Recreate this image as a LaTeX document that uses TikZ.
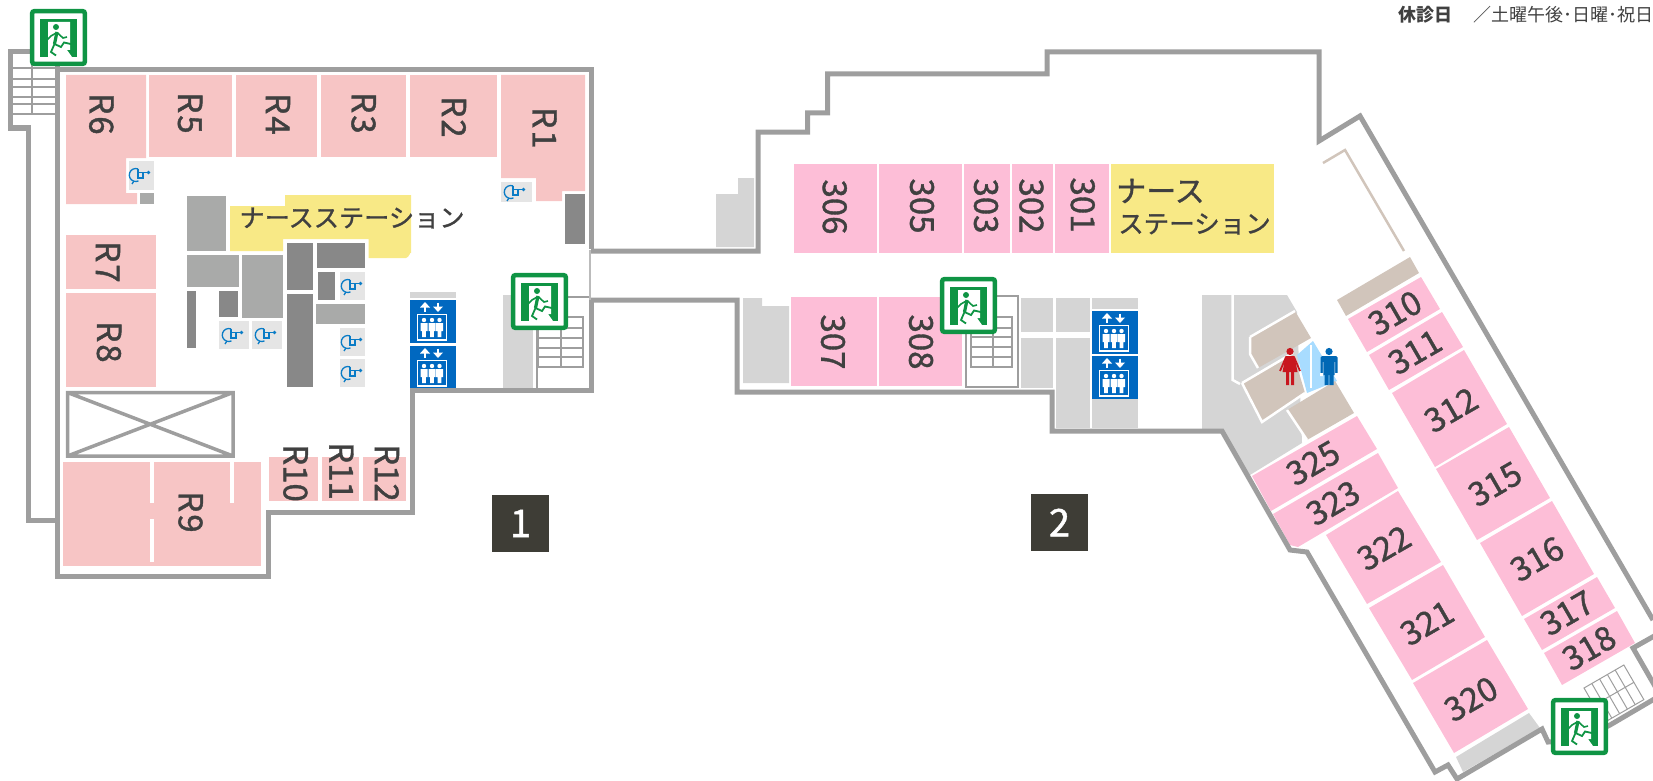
\documentclass[tikz,border=0pt]{standalone}
\usepackage{fontspec}
\setmainfont{Noto Sans CJK JP}
\newfontfamily\labelfont[FakeBold=1.2]{Noto Sans CJK JP}
\definecolor{wallgrey}{HTML}{9E9E9E}
\definecolor{roompale}{HTML}{F7C5C5}
\definecolor{roompink}{HTML}{FDBED7}
\definecolor{stationyellow}{HTML}{F8E986}
\definecolor{blockmid}{HTML}{A9AAA9}
\definecolor{blockdark}{HTML}{888888}
\definecolor{blocklight}{HTML}{D5D5D5}
\definecolor{tilegrey}{HTML}{E5E5E5}
\definecolor{beige}{HTML}{D1C5BB}
\definecolor{iconblue}{HTML}{0A7CC6}
\definecolor{liftblue}{HTML}{0068C0}
\definecolor{manblue}{HTML}{0068B5}
\definecolor{womanred}{HTML}{C8161E}
\definecolor{exitgreen}{HTML}{0F9444}
\definecolor{glassblue}{HTML}{A8DCFF}
\definecolor{tagdark}{HTML}{3E3D36}
\definecolor{labeltext}{HTML}{404040}
\tikzset{
  wall/.style={draw=wallgrey,line width=5pt,miter limit=10},
  thinwall/.style={draw=wallgrey,line width=2.5pt},
  roomlabel/.style={inner sep=0pt,text=labeltext,font=\labelfont\fontsize{33}{33}\selectfont},
  stationlabel/.style={inner sep=0pt,text=labeltext,font=\labelfont\fontsize{25.2}{26}\selectfont},
  numbertag/.style={inner sep=0pt,fill=tagdark,text=white,minimum width=57pt,minimum height=57pt,font=\labelfont\fontsize{38}{38}\selectfont},
  headerlabel/.style={inner sep=0pt,anchor=west,text=labeltext,font=\fontsize{18}{18}\selectfont},
}
\newcommand{\exitsign}[2]{%
  \begin{scope}[shift={(#1,#2)}]
  \draw[exitgreen,line width=4.5pt,fill=white,rounded corners=2pt](2.2,2.2)rectangle(54.8,54.8);
  \fill[exitgreen](10,10)rectangle(47,48);
  \fill[white](18,13)--(40,13)--(40,41)--(37,41)--(42,48)--(18,48)--cycle;
  \fill[exitgreen](26,18)circle(3);
  \draw[exitgreen,line width=3.2pt](27,23)--(24.5,35);
  \draw[exitgreen,line width=1.6pt](27,23.5)--(21,27)--(17,31);
  \draw[exitgreen,line width=1.6pt](27,23.5)--(33,29)--(37,28);
  \draw[exitgreen,line width=1.8pt](24.5,35)--(31,38)--(34,33.5)--(43,35.5);
  \draw[exitgreen,line width=1.8pt](24.5,35)--(21,43)--(26,46.5);
  \end{scope}}
\newcommand{\wheelchair}[2]{%
  \begin{scope}[shift={(#1,#2)},iconblue,line width=1.3pt]
  \draw(-2,-6.1)arc[start angle=-70,end angle=-295,radius=6.5];
  \draw(-2,-6)--(-2,3)--(3,3)--(3,-2.5);
  \draw(-2,-2.5)--(8,-2.5);
  \fill(8.5,-2.5)circle(1.8);
  \draw(-6,6)--(-8,9);
  \end{scope}}
\newcommand{\lifttile}[2]{%
  \begin{scope}[shift={(#1,#2)}]
  \fill[liftblue](0,0)rectangle(46,43);
  \draw[white,line width=2pt](15,12)--(15,6);
  \fill[white](10,7.5)--(15,2)--(20,7.5)--cycle;
  \draw[white,line width=2pt](28,2.5)--(28,8);
  \fill[white](23,6.5)--(28,12)--(33,6.5)--cycle;
  \draw[white,line width=1.5pt](7.5,14.5)rectangle(36.5,40);
  \fill[white](14,20)circle(2.2)(22,20)circle(2.2)(29.5,20)circle(2.2);
  \fill[white](10.5,23)rectangle(17.5,31)(12.2,31)rectangle(15.8,37);
  \fill[white](18.5,23)rectangle(25.5,31)(20.2,31)rectangle(23.8,37);
  \fill[white](26,23)rectangle(33,31)(27.7,31)rectangle(31.3,37);
  \end{scope}}
\begin{document}
\begin{tikzpicture}[x=1pt,y=-1pt]
\useasboundingbox(0,0)rectangle(1653,781);
\clip(0,0)rectangle(1653,781);
% left wing rooms
\fill[roompale](66,75)--(146,75)--(146,158)--(126,158)--(126,193)--(137,193)--(137,204)--(66,204)--cycle; %R6
\fill[roompale](149,75)rectangle(232,157); %R5
\fill[roompale](236,75)rectangle(317,157); %R4
\fill[roompale](321,75)rectangle(406,157); %R3
\fill[roompale](410,75)rectangle(497,157); %R2
\fill[roompale](501,75)--(585,75)--(585,191)--(562,191)--(562,201)--(536,201)--(536,178)--(501,178)--cycle; %R1
\fill[roompale](66,235)rectangle(156,289); %R7
\fill[roompale](66,293)rectangle(156,387); %R8
\fill[roompale](63,462)rectangle(261,566); %R9
\draw[white,line width=3.5pt](152,462)--(152,503)(152,519)--(152,562)(232,462)--(232,503);
\fill[roompale](269,457)rectangle(318,501); %R10
\fill[roompale](322,457)rectangle(359,501); %R11
\fill[roompale](363,457)rectangle(406,501); %R12
% void
\draw[wallgrey,line width=3.5pt](67.5,392.5)rectangle(233,456)(67.5,392.5)--(233,456)(233,392.5)--(67.5,456);
% left wing station
\fill[stationyellow](230,206)--(285,206)--(285,195)--(411,195)--(411,253)to[out=90,in=0](406,258)--(368.5,258)--(368.5,239)--(283,239)--(283,251)--(230,251)--cycle;
% blocks around station
\fill[blockmid](187,196)rectangle(226,251);
\fill[blockmid](187,255)rectangle(239,287);
\fill[blockmid](242,255)rectangle(283,318);
\fill[blockmid](316,304)rectangle(365,324);
\fill[blockdark](187,291)rectangle(196,348);
\fill[blockdark](219,291)rectangle(238,317);
\fill[blockdark](287,243)rectangle(313,290);
\fill[blockdark](287,294)rectangle(313,387);
\fill[blockdark](317,243)rectangle(365,268);
\fill[blockdark](318,272)rectangle(335,300);
\fill[blockdark](565,194)rectangle(585,244);
\fill[blockmid](140,193)rectangle(154,204);
% wheelchair tiles
\fill[tilegrey](340,272)rectangle(365,300);
\fill[tilegrey](340,328)rectangle(365,356);
\fill[tilegrey](340,359)rectangle(365,387);
\fill[tilegrey](219,321)rectangle(249,349);
\fill[tilegrey](252,321)rectangle(282,349);
\fill[tilegrey](129,161)rectangle(154,190);
\fill[tilegrey](501,182)rectangle(532,202);
\wheelchair{352}{286}
\wheelchair{352}{342}
\wheelchair{352}{373}
\wheelchair{233}{335}
\wheelchair{266}{335}
\wheelchair{140}{175}
\wheelchair{515}{192}
% left wing core
\fill[blocklight](410,292)rectangle(456,298);
\lifttile{410}{300}
\lifttile{410}{346}
\fill[blocklight](503,295)rectangle(533,388);
\draw[thinwall](537,388)--(537,297)--(590,297);
\draw[thinwall](538,317)rectangle(583,367);
\draw[thinwall](538,328)--(583,328)(538,338)--(583,338)(538,348)--(583,348)(538,357)--(583,357)(561,317)--(561,367);
% outer wall of left wing
\draw[wall](591,249)--(591,70)--(57,70)--(57,576)--(268,576)--(268,512)--(412,512)--(412,390)--(591,390)--(591,298);
\draw[draw=wallgrey!70,line width=2pt](590,250)--(590,300);
\draw[wall](57,68)--(57,52)--(10,52)--(10,128)--(28,128)--(28,520)--(57,520); %west stair
\draw[wallgrey,line width=2.5pt](12,68)--(55,68)(12,79)--(55,79)(12,87)--(55,87)(12,97)--(55,97)(12,104)--(55,104)(12,114)--(55,114)(32,60)--(32,114);
% right wing rooms
\fill[roompink](794,164)rectangle(877,253); %306
\fill[roompink](879,164)rectangle(962,253); %305
\fill[roompink](964,164)rectangle(1010,253); %303
\fill[roompink](1012,164)rectangle(1053,253); %302
\fill[roompink](1055,164)rectangle(1109,253); %301
\fill[stationyellow](1111,164)rectangle(1274,253);
\fill[roompink](791,297)rectangle(877,386); %307
\fill[roompink](879,297)rectangle(962,386); %308
% grey blocks of right wing
\fill[blocklight](716,247)--(716,194)--(738,194)--(738,178)--(754,178)--(754,247)--cycle;
\fill[blocklight](743,298)--(762,298)--(762,306)--(789,306)--(789,383)--(743,383)--cycle;
\fill[blocklight](1021,298)rectangle(1053,332);
\fill[blocklight](1056,298)rectangle(1090,332);
\fill[blocklight](1021,338)rectangle(1053,388);
\fill[blocklight](1056,338)rectangle(1090,428);
\fill[blocklight](1092,298)rectangle(1138,309);
\fill[blocklight](1092,399)rectangle(1138,428);
\lifttile{1092}{311}
\lifttile{1092}{356}
\draw[thinwall](966,296)rectangle(1018,387);
\draw[thinwall](971,317)rectangle(1012,367);
\draw[thinwall](971,328)--(1012,328)(971,337)--(1012,337)(971,347)--(1012,347)(971,357)--(1012,357)(993,317)--(993,367);
% toilet core
\fill[blocklight](1202,295)--(1287,295)--(1297,312)--(1302,443)--(1250,475)--(1222,432)--(1202,432)--cycle;
\draw[white,line width=2.5pt](1232.7,295)--(1232.7,380)--(1240,384);
\fill[beige](1250,337)--(1295,311)--(1311,338)--(1258,368)--(1250,354)--cycle;
\draw[white,line width=2.5pt](1250,337)--(1295,311)(1250,337)--(1250,354)--(1258,368);
\fill[beige](1242,383)--(1293,353)--(1305,393)--(1262,422)--cycle;
\draw[white,line width=2.5pt](1242,383)--(1293,353)(1242,383)--(1262,422)--(1305,393);
\fill[glassblue](1297,355)--(1313,341)--(1337,381)--(1307,393)--cycle;
\draw[white,line width=1.8pt](1311,345)--(1311,388);
\fill[beige](1287,410)--(1335,381)--(1354,413)--(1307,440)--cycle;
\draw[white,line width=2.5pt](1287,410)--(1307,440);
\fill[beige](1337,300)--(1410,257)--(1419,273)--(1346,316)--cycle;
\draw[beige,line width=2.5pt](1323,163)--(1345,150)--(1404,251);
% woman
\begin{scope}[shift={(1290,348)},womanred]
\fill(0,3.5)circle(3.6);
\fill(-4.5,8)--(4.5,8)--(7.5,24)--(-7.5,24)--cycle;
\draw[line width=1.8pt](-4,9)--(-10,23)(4,9)--(10,23);
\fill(-4,24)rectangle(-1,37)(1,24)rectangle(4,37);
\end{scope}
% man
\begin{scope}[shift={(1329,348)},manblue]
\fill(0,3.5)circle(3.6);
\fill[rounded corners=1.5pt](-8.5,8)rectangle(8.5,27);
\fill[white](-6.2,14)rectangle(-5.6,27)(5.6,14)rectangle(6.2,27);
\fill(-4.5,24)rectangle(-0.4,37)(0.4,24)rectangle(4.5,37);
\fill[white](-9,25)rectangle(-6.2,28)(6.2,25)rectangle(9,28);
\end{scope}
% slanted rooms
\fill[roompink](1348,319)--(1421,277)--(1440,309)--(1367,352)--cycle; %310
\fill[roompink](1369,355)--(1442,312)--(1463,347)--(1389,390)--cycle; %311
\fill[roompink](1392,393)--(1464,350)--(1507,424)--(1435,467)--cycle; %312
\fill[roompink](1436,469)--(1509,427)--(1550,498)--(1477,540)--cycle; %315
\fill[roompink](1480,543)--(1552,501)--(1594,574)--(1522,616)--cycle; %316
\fill[roompink](1524,619)--(1597,577)--(1615,608)--(1542,650)--cycle; %317
\fill[roompink](1544,653)--(1617,611)--(1635,643)--(1562,685)--cycle; %318
\fill[roompink](1252,476)--(1357,416)--(1377,449)--(1271,511)--cycle; %325
\fill[roompink](1273,514)--(1378,453)--(1398,488)--(1298,547)--(1290,545)--cycle; %323
\fill[roompink](1326,535)--(1398,491)--(1441,562)--(1367,604)--cycle; %322
\fill[roompink](1369,608)--(1443,565)--(1485,637)--(1412,680)--cycle; %321
\fill[roompink](1413,683)--(1487,640)--(1528,709)--(1454,753)--cycle; %320
\fill[blocklight](1456,757)--(1529,713)--(1540,728)--(1463,772)--cycle;
% south stair
\begin{scope}[shift={(1584,688)},rotate=30,wallgrey,line width=1pt]
\draw(0,0)rectangle(46,40);
\draw(0,20)--(46,20)(9,0)--(9,40)(18,0)--(18,40)(27,0)--(27,40)(36,0)--(36,40);
\end{scope}
% outer wall of right wing
\draw[wall](591,251)--(758,251)--(758,132)--(807.5,132)--(807.5,113)--(827.5,113)--(827.5,74)--(1047,74)--(1047,52)--(1319,52)--(1319,141)--(1360,116)--(1653,620); %north side
\draw[wall](591,300)--(737,300)--(737,392)--(1052,392)--(1052,431)--(1222,431)--(1290,550)--(1307,552)--(1435,772)--(1448,765)--(1457,779)--(1542,729)--(1548,742)--(1580,740)--(1610,725)--(1656,698); %south side
\draw[wall](1656,635)--(1633,648)--(1656,688);
% exits
\exitsign{30}{9}
\exitsign{511}{273}
\exitsign{940}{277}
\exitsign{1551}{698}
% labels
\node[roomlabel,rotate=-90](labelrsix)at(101.4,114){R\kern2pt 6};
\node[roomlabel,rotate=-90](labelrfive)at(190,113){R\kern2pt 5};
\node[roomlabel,rotate=-90](labelrfour)at(278,114){R\kern2pt 4};
\node[roomlabel,rotate=-90](labelrthree)at(363.6,113){R\kern2pt 3};
\node[roomlabel,rotate=-90](labelrtwo)at(454,117){R\kern2pt 2};
\node[roomlabel,rotate=-90](labelrone)at(544.6,128){R\kern2pt 1};
\node[roomlabel,rotate=-90](labelrseven)at(108,262){R\kern2pt 7};
\node[roomlabel,rotate=-90](labelreight)at(109,342){R\kern2pt 8};
\node[roomlabel,rotate=-90](labelrnine)at(190.6,512){R\kern2pt 9};
\node[roomlabel,rotate=-90](labelrten)at(295.5,473){R10};
\node[roomlabel,rotate=-90](labelreleven)at(341.4,471){R11};
\node[roomlabel,rotate=-90](labelrtwelve)at(387,473){R12};
\node[roomlabel,rotate=-90](label306)at(834.7,207){306};
\node[roomlabel,rotate=-90](label305)at(922,206){305};
\node[roomlabel,rotate=-90](label303)at(986,206){303};
\node[roomlabel,rotate=-90](label302)at(1031.4,206){302};
\node[roomlabel,rotate=-90](label301)at(1082.7,205){301};
\node[roomlabel,rotate=-90](label307)at(833,342){307};
\node[roomlabel,rotate=-90](label308)at(921,342){308};
\node[roomlabel,rotate=30](label310)at(1395,313){310};
\node[roomlabel,rotate=30](label311)at(1415,352){311};
\node[roomlabel,rotate=30](label312)at(1451,410){312};
\node[roomlabel,rotate=30](label315)at(1495,484){315};
\node[roomlabel,rotate=30](label316)at(1537,559){316};
\node[roomlabel,rotate=30](label317)at(1567,613){317};
\node[roomlabel,rotate=30](label318)at(1589,648){318};
\node[roomlabel,rotate=30](label325)at(1313,463){325};
\node[roomlabel,rotate=30](label323)at(1333,503){323};
\node[roomlabel,rotate=30](label322)at(1384,548){322};
\node[roomlabel,rotate=30](label321)at(1427,623){321};
\node[roomlabel,rotate=30](label320)at(1471,699){320};
\node[stationlabel](stationone)at(352,218){ナースステーション};
\node[stationlabel,anchor=west,font=\labelfont\fontsize{30}{30}\selectfont](stationtwoa)at(1116,191){ナース};
\node[stationlabel,anchor=west,font=\labelfont\fontsize{25.5}{26}\selectfont](stationtwob)at(1118,224){ステーション};
\node[numbertag](tagone)at(520.5,523.5){1};
\node[numbertag](tagtwo)at(1059.5,522.5){2};
\node[headerlabel,font=\fontsize{18}{18}\selectfont\bfseries](closedhead)at(1398,15){休診日};
\node[headerlabel](closedtext)at(1473,15){／土曜午後･日曜･祝日};
\end{tikzpicture}
\end{document}
